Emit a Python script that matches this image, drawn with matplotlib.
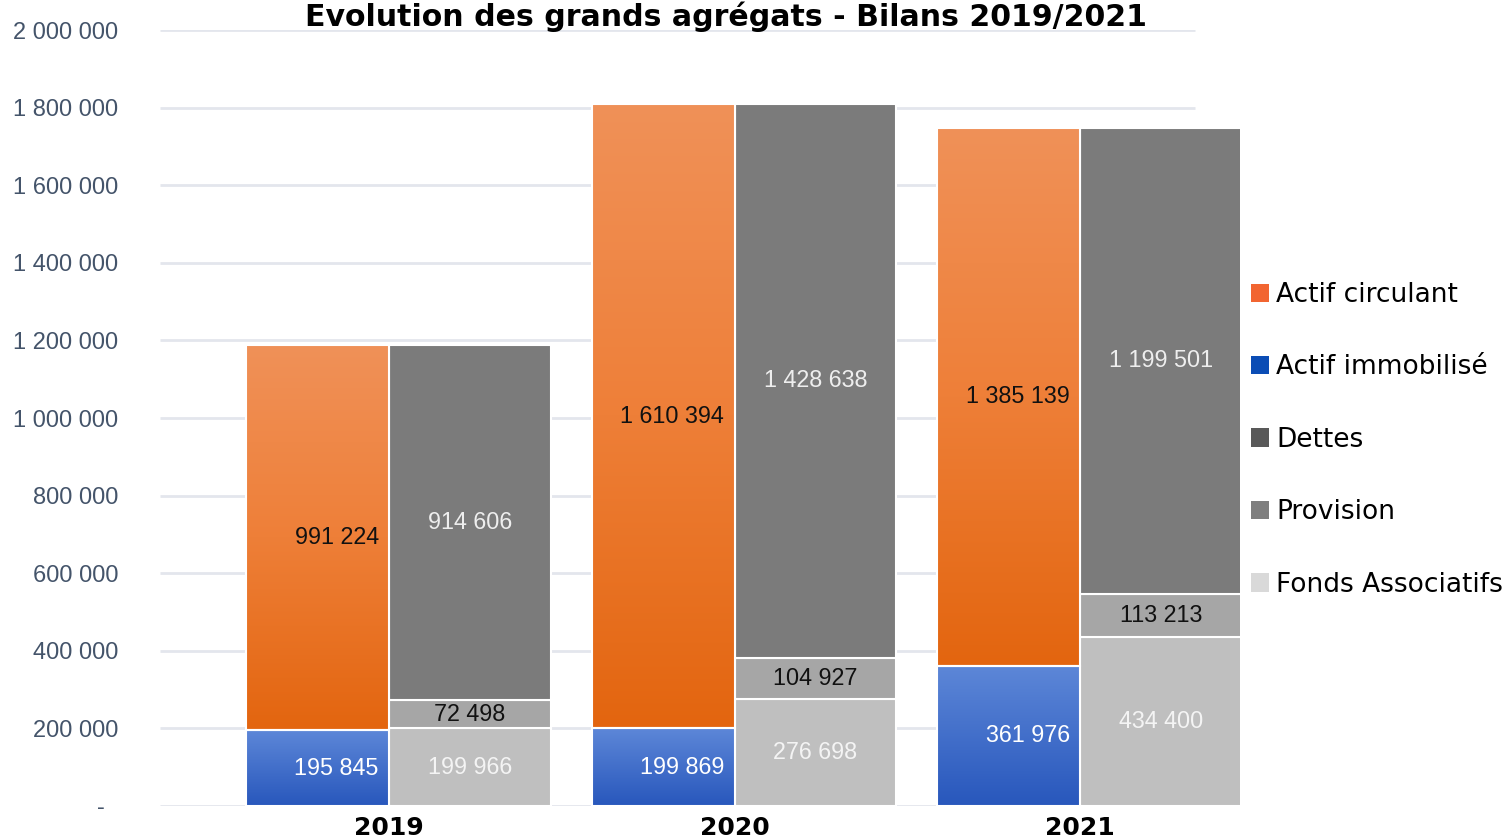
import matplotlib
matplotlib.use("Agg")
import matplotlib.pyplot as plt
import numpy as np
from matplotlib.colors import LinearSegmentedColormap
from matplotlib.patches import Patch

# ---- data ----
years = ["2019", "2020", "2021"]
actif_immobilise = [195845, 199869, 361976]
actif_circulant = [991224, 1610394, 1385139]
fonds_associatifs = [199966, 276698, 434400]
provision = [72498, 104927, 113213]
dettes = [914606, 1428638, 1199501]
y_ticks = [0, 200000, 400000, 600000, 800000, 1000000, 1200000, 1400000, 1600000, 1800000, 2000000]

title = "Evolution des grands agrégats - Bilans 2019/2021"
legend_labels = ["Actif circulant", "Actif immobilisé", "Dettes", "Provision", "Fonds Associatifs"]


def fmt(v):
    return "{:,}".format(v).replace(",", " ")


W, H = 1502, 839
fig = plt.figure(figsize=(W / 100, H / 100), dpi=100)
ax = fig.add_axes([160 / W, 33 / H, (1240 - 160) / W, 776 / H])

XMIN, XMAX, GRID_END = -0.663, 2.463, 2.333
ax.set_xlim(XMIN, XMAX)
ax.set_ylim(0, 2000000)

# grid lines
ax.hlines(y_ticks, XMIN, GRID_END, color="#E3E6ED", lw=2, zorder=0)

x = np.arange(len(years))
wl, wr = 0.414, 0.468

cmap_orange = LinearSegmentedColormap.from_list("o", ["#E3650F", "#EE7F38", "#F09158"])
cmap_blue = LinearSegmentedColormap.from_list("b", ["#2857BC", "#5D87D8"])
grad = np.linspace(0, 1, 256).reshape(-1, 1)

# left bars (actif)
b_imm = ax.bar(x - wl / 2, actif_immobilise, width=wl, color="#3F6FCC", edgecolor="white", lw=1.5, zorder=2)
b_circ = ax.bar(x - wl / 2, actif_circulant, width=wl, bottom=actif_immobilise, color="#EC7A30",
                edgecolor="white", lw=1.5, zorder=2)
for bars, cm in ((b_imm, cmap_blue), (b_circ, cmap_orange)):
    for p in bars:
        x0, y0 = p.get_x(), p.get_y()
        im = ax.imshow(grad, extent=[x0, x0 + p.get_width(), y0, y0 + p.get_height()],
                       cmap=cm, aspect="auto", origin="lower", zorder=2.5)
        im.set_clip_path(p)
        ax.add_patch(plt.Rectangle((x0, y0), p.get_width(), p.get_height(),
                                   fill=False, edgecolor="white", lw=1.5, zorder=3))

# right bars (passif)
bot2 = np.array(fonds_associatifs) + np.array(provision)
b_fonds = ax.bar(x + wr / 2, fonds_associatifs, width=wr, color="#BFBFBF", edgecolor="white", lw=1.5, zorder=2)
b_prov = ax.bar(x + wr / 2, provision, width=wr, bottom=fonds_associatifs, color="#A6A6A6",
                edgecolor="white", lw=1.5, zorder=2)
b_det = ax.bar(x + wr / 2, dettes, width=wr, bottom=bot2, color="#7B7B7B", edgecolor="white", lw=1.5, zorder=2)

ax.set_xlim(XMIN, XMAX)
ax.set_ylim(0, 2000000)

lab_font = dict(family="Liberation Sans", fontsize=16.8, zorder=5, va="center")
for i in range(len(years)):
    ax.text(x[i] - 0.03, actif_immobilise[i] / 2, fmt(actif_immobilise[i]), ha="right", color="white", **lab_font)
    ax.text(x[i] - 0.03, actif_immobilise[i] + actif_circulant[i] / 2, fmt(actif_circulant[i]), ha="right",
            color="#111111", **lab_font)
    xc = x[i] + wr / 2
    ax.text(xc, fonds_associatifs[i] / 2, fmt(fonds_associatifs[i]), ha="center", color="#F4F4F4", **lab_font)
    ax.text(xc, fonds_associatifs[i] + provision[i] / 2, fmt(provision[i]), ha="center", color="#111111", **lab_font)
    ax.text(xc, bot2[i] + dettes[i] / 2, fmt(dettes[i]), ha="center", color="#EEEEEE", **lab_font)

# axes styling
for s in ax.spines.values():
    s.set_visible(False)
ax.set_yticks(y_ticks)
ax.set_yticklabels([fmt(v) if v else "-  " for v in y_ticks], family="Liberation Sans", fontsize=17,
                   color="#44546A")
ax.tick_params(axis="y", length=0, pad=30)
for lbl in ax.get_yticklabels():
    lbl.set_va("center_baseline")
ax.set_xticks(x)
ax.set_xticklabels(years, fontsize=18, fontweight="bold", color="black", family="DejaVu Sans")
ax.tick_params(axis="x", length=0, pad=7)

fig.text(726 / W, (H - 26) / H, title, ha="center", va="baseline", fontsize=21.6, fontweight="bold",
         color="black", family="DejaVu Sans")

handles = [Patch(facecolor=c, edgecolor="none") for c in ["#F26531", "#0B4DB5", "#595959", "#7F7F7F", "#D9D9D9"]]
fig.legend(handles, legend_labels, loc="upper left", bbox_to_anchor=(1251 / W, (H - 282) / H),
           frameon=False, handlelength=0.7, handleheight=0.7, handletextpad=0.25,
           labelspacing=1.76, borderpad=0, borderaxespad=0, prop=dict(family="DejaVu Sans", size=19))

fig.savefig("out.png", dpi=100)
